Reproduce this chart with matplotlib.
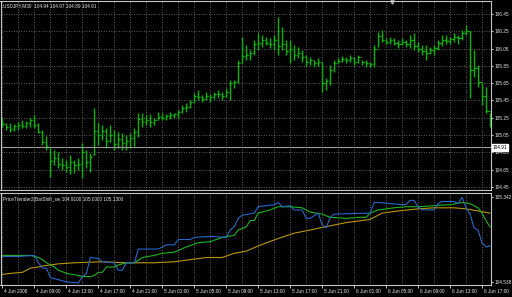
import numpy as np
import matplotlib
matplotlib.use('Agg')
import matplotlib.pyplot as plt

# USDJPY M30, 4 Jun 2008 05:00 .. 6 Jun 2008 18:00 (bar numbers 0..122)
opens = [105.22, 105.18, 105.14, 105.12, 105.15, 105.17, 105.16, 105.19, 105.22, 105.17,
         105.09, 104.97, 104.91, 104.75, 104.78, 104.72, 104.70, 104.68, 104.74, 104.70,
         104.72, 104.85, 104.74, 104.82, 105.10, 105.05, 105.10, 104.98, 105.05, 104.95,
         105.00, 104.96, 104.98, 105.02, 105.08, 105.24, 105.20, 105.22, 105.20, 105.23,
         105.26, 105.25, 105.27, 105.28, 105.29, 105.32, 105.36, 105.38, 105.43, 105.50,
         105.49, 105.47, 105.50, 105.49, 105.52, 105.52, 105.50, 105.55, 105.65, 105.66,
         105.88, 105.96, 105.98, 106.00, 106.10, 106.12, 106.15, 106.12, 106.10, 106.15,
         106.08, 106.10, 106.02, 106.05, 105.98, 106.00, 105.95, 105.90, 105.92, 105.88,
         105.90, 105.65, 105.68, 105.80, 105.88, 105.91, 105.93, 105.92, 105.94, 105.90,
         105.95, 105.89, 105.88, 105.87, 106.05, 106.20, 106.15, 106.13, 106.15, 106.12,
         106.10, 106.13, 106.10, 106.15, 106.08, 106.05, 106.02, 106.00, 106.03, 106.06,
         106.12, 106.15, 106.14, 106.16, 106.18, 106.17, 106.23, 106.25, 105.80, 105.82,
         105.66, 105.50, 105.33]
highs = [105.25, 105.19, 105.19, 105.18, 105.20, 105.22, 105.21, 105.25, 105.28, 105.19,
         105.11, 105.04, 104.91, 104.88, 104.85, 104.79, 104.76, 104.82, 104.76, 104.79,
         104.96, 104.88, 104.84, 105.36, 105.19, 105.17, 105.13, 105.17, 105.11, 105.09,
         105.07, 105.05, 105.07, 105.13, 105.31, 105.31, 105.28, 105.29, 105.25, 105.32,
         105.31, 105.29, 105.32, 105.31, 105.34, 105.40, 105.42, 105.46, 105.54, 105.57,
         105.51, 105.55, 105.53, 105.55, 105.57, 105.55, 105.59, 105.69, 105.69, 105.92,
         106.18, 106.09, 106.03, 106.15, 106.23, 106.21, 106.18, 106.17, 106.21, 106.42,
         106.30, 106.15, 106.15, 106.09, 106.07, 106.03, 105.98, 105.95, 105.92, 105.94,
         105.90, 105.71, 105.86, 105.92, 105.94, 105.96, 105.95, 105.98, 105.95, 105.98,
         105.92, 105.92, 105.90, 106.09, 106.24, 106.27, 106.17, 106.18, 106.17, 106.15,
         106.17, 106.15, 106.21, 106.23, 106.13, 106.09, 106.09, 106.07, 106.09, 106.15,
         106.21, 106.21, 106.18, 106.23, 106.21, 106.27, 106.32, 106.25, 106.03, 105.86,
         105.65, 105.61, 105.31]
lows = [105.14, 105.11, 105.09, 105.10, 105.11, 105.13, 105.13, 105.14, 105.13, 105.07,
        104.94, 104.88, 104.57, 104.70, 104.67, 104.65, 104.62, 104.60, 104.61, 104.65,
        104.55, 104.67, 104.62, 104.82, 104.94, 104.99, 104.90, 104.97, 104.88, 104.90,
        104.88, 104.88, 104.90, 104.92, 105.03, 105.14, 105.17, 105.14, 105.17, 105.22,
        105.22, 105.22, 105.24, 105.25, 105.25, 105.31, 105.32, 105.36, 105.42, 105.46,
        105.43, 105.46, 105.43, 105.47, 105.48, 105.46, 105.49, 105.46, 105.59, 105.65,
        105.88, 105.92, 105.92, 105.98, 106.03, 106.07, 106.09, 106.06, 106.03, 105.98,
        106.03, 105.98, 105.88, 105.92, 105.94, 105.90, 105.85, 105.86, 105.84, 105.85,
        105.55, 105.57, 105.63, 105.78, 105.88, 105.90, 105.88, 105.90, 105.86, 105.88,
        105.86, 105.84, 105.84, 105.84, 106.07, 106.13, 106.10, 106.10, 106.09, 106.06,
        106.09, 106.07, 106.06, 106.03, 106.01, 105.98, 105.92, 105.99, 105.98, 106.03,
        106.08, 106.10, 106.10, 106.13, 106.10, 106.15, 106.21, 105.48, 105.72, 105.61,
        105.40, 105.31, 105.14]
closes = [105.18, 105.14, 105.12, 105.15, 105.17, 105.16, 105.19, 105.22, 105.17, 105.09,
          104.97, 104.92, 104.75, 104.78, 104.72, 104.70, 104.68, 104.74, 104.70, 104.72,
          104.85, 104.74, 104.80, 105.10, 105.05, 105.10, 104.98, 105.05, 104.95, 105.00,
          104.96, 104.98, 105.02, 105.08, 105.24, 105.20, 105.22, 105.20, 105.23, 105.26,
          105.25, 105.27, 105.28, 105.29, 105.32, 105.36, 105.38, 105.43, 105.50, 105.49,
          105.47, 105.50, 105.49, 105.52, 105.52, 105.50, 105.55, 105.65, 105.66, 105.88,
          105.96, 105.98, 106.00, 106.10, 106.12, 106.15, 106.12, 106.10, 106.15, 106.08,
          106.10, 106.02, 106.05, 105.98, 106.00, 105.95, 105.90, 105.92, 105.88, 105.90,
          105.65, 105.68, 105.80, 105.88, 105.91, 105.93, 105.92, 105.94, 105.90, 105.95,
          105.89, 105.88, 105.87, 106.05, 106.20, 106.15, 106.13, 106.15, 106.12, 106.10,
          106.13, 106.10, 106.15, 106.08, 106.05, 106.02, 106.00, 106.03, 106.06, 106.12,
          106.15, 106.14, 106.16, 106.18, 106.17, 106.23, 106.25, 105.80, 105.82, 105.66,
          105.50, 105.33, 105.20]

# PriceTrender indicator lines (bar number, value)
blue_bars = [0, 4, 8, 9, 10, 11, 12, 16, 19, 20, 21, 22, 24, 25, 28, 29, 30, 31, 33, 34,
             39, 41, 43, 44, 47, 48, 52, 56, 57, 58, 59, 60, 63, 64, 68, 69, 70, 72, 73, 75,
             76, 77, 79, 80, 81, 82, 83, 92, 93, 94, 100, 101, 102, 103, 104, 105, 108, 109,
             110, 113, 114, 115, 116, 117, 118, 119, 120, 121, 122]
blue_vals = [104.78, 104.78, 104.79, 104.72, 104.67, 104.67, 104.58, 104.54, 104.53, 104.59,
             104.62, 104.77, 104.76, 104.73, 104.72, 104.65, 104.65, 104.72, 104.72, 104.85,
             104.85, 104.89, 104.89, 104.94, 104.94, 104.96, 104.97, 104.96, 105.03, 105.06,
             105.14, 105.17, 105.19, 105.25, 105.27, 105.29, 105.25, 105.26, 105.22, 105.22,
             105.14, 105.14, 105.19, 105.08, 105.05, 105.15, 105.18, 105.19, 105.29, 105.29,
             105.27, 105.27, 105.31, 105.31, 105.25, 105.22, 105.22, 105.28, 105.30, 105.30,
             105.28, 105.34, 105.24, 105.18, 105.05, 105.03, 104.91, 104.87, 104.88]
green_bars = [0, 7, 9, 10, 11, 13, 14, 16, 19, 20, 22, 23, 24, 25, 26, 28, 29, 31, 33, 35,
              38, 40, 43, 46, 49, 52, 55, 58, 59, 61, 62, 63, 64, 67, 69, 72, 75, 77, 80, 82,
              86, 89, 91, 92, 94, 98, 101, 104, 108, 112, 115, 117, 119, 120, 121, 122]
green_vals = [104.79, 104.79, 104.77, 104.75, 104.72, 104.68, 104.65, 104.62, 104.60, 104.59,
              104.59, 104.60, 104.63, 104.63, 104.68, 104.68, 104.70, 104.72, 104.72, 104.77,
              104.79, 104.81, 104.82, 104.87, 104.91, 104.92, 104.96, 104.98, 105.03, 105.06,
              105.12, 105.12, 105.19, 105.22, 105.25, 105.25, 105.24, 105.20, 105.18, 105.15,
              105.14, 105.15, 105.15, 105.19, 105.22, 105.24, 105.25, 105.25, 105.26, 105.27,
              105.29, 105.28, 105.24, 105.19, 105.12, 105.06]
gold_bars = [0, 2, 5, 7, 9, 10, 14, 18, 25, 31, 38, 43, 47, 51, 55, 58, 61, 64, 69, 73,
             77, 82, 86, 92, 95, 99, 104, 108, 113, 116, 119, 122]
gold_vals = [104.61, 104.62, 104.63, 104.67, 104.68, 104.69, 104.71, 104.72, 104.73, 104.72,
             104.72, 104.73, 104.75, 104.77, 104.77, 104.81, 104.83, 104.88, 104.95, 105.00,
             105.03, 105.07, 105.10, 105.13, 105.19, 105.21, 105.23, 105.24, 105.24, 105.23,
             105.21, 105.19]

price_ticks = [106.45, 106.25, 106.05, 105.85, 105.65, 105.45, 105.25, 105.05, 104.85, 104.65, 104.45]
price_labels = ['106.45', '106.25', '106.05', '105.85', '105.65', '105.45', '105.25', '105.05',
                '104.85', '104.65', '104.45']
bid = 104.91
ind_ticks = [105.342, 104.538]
ind_labels = ['105.342', '104.538']
time_bars = [0, 8, 16, 24, 32, 40, 48, 56, 64, 72, 80, 88, 96, 104, 112, 120]
time_labels = ['4 Jun 2008', '4 Jun 09:00', '4 Jun 13:00', '4 Jun 17:00', '4 Jun 21:00',
               '5 Jun 01:00', '5 Jun 05:00', '5 Jun 09:00', '5 Jun 13:00', '5 Jun 17:00',
               '5 Jun 21:00', '6 Jun 01:00', '6 Jun 05:00', '6 Jun 09:00', '6 Jun 13:00',
               '6 Jun 17:00']
grid_bars = list(range(0, 123, 4))

plt.rcParams['font.family'] = ['Liberation Sans', 'DejaVu Sans']
W, H = 512, 297
fig = plt.figure(figsize=(W / 100, H / 100), dpi=100, facecolor='black')


def box(x0, y0, x1, y1):
    # pixel rectangle (top-left origin) -> figure fraction
    return [x0 / W, 1 - y1 / H, (x1 - x0) / W, (y1 - y0) / H]


frame = '#c4c4c4'
gridc = '#7c7c7c'
txt = '#e6e6e6'
fs = 3.4

ax = fig.add_axes(box(0.5, 1, 491, 190))
ax2 = fig.add_axes(box(0.5, 193, 491, 285))

for a in (ax, ax2):
    a.set_facecolor('black')
    for s in a.spines.values():
        s.set_color(frame)
        s.set_linewidth(0.8)
    a.set_xlim(-0.5, 122.25)
    a.set_xticks(grid_bars)
    a.tick_params(axis='x', length=0, labelbottom=False)
    a.grid(axis='x', color=gridc, linestyle=(0, (1, 2)), linewidth=0.6)
    a.yaxis.tick_right()
    a.tick_params(axis='y', length=1.5, color=frame, labelsize=fs, labelcolor=txt, pad=1)

# price bars
x = np.arange(len(closes))
bar_col = '#00b800'
ax.vlines(x, lows, highs, colors=bar_col, linewidth=1.0)
ax.hlines(opens, x - 0.4, x, colors=bar_col, linewidth=0.9)
ax.hlines(closes, x, x + 0.4, colors=bar_col, linewidth=0.9)
ax.set_ylim(104.415, 106.600)
ax.set_yticks(price_ticks)
ax.set_yticklabels(price_labels)
ax.grid(axis='y', color=gridc, linestyle=(0, (1, 2)), linewidth=0.6)
ax.axhline(bid, color='#9a9a9a', linewidth=0.8)
ax.text(1.004, bid, '104.91', transform=ax.get_yaxis_transform(), fontsize=fs,
        color='black', va='center', ha='left',
        bbox=dict(facecolor='white', edgecolor='white', pad=0.6))
ax.plot([97.5], [0.993], transform=ax.get_xaxis_transform(), marker='v', ms=2.5,
        color='#a6aab0', clip_on=False)
fig.text(3 / W, 1 - 6 / H, 'USDJPY,M30  104.94 104.97 104.89 104.91', fontsize=fs,
         color=txt, va='center', ha='left')

# indicator window
ax2.plot(gold_bars, gold_vals, color='#b8960c', linewidth=0.8)
ax2.plot(green_bars, green_vals, color='#1cb41c', linewidth=0.8)
ax2.plot(blue_bars, blue_vals, color='#2468c8', linewidth=0.8)
ax2.set_ylim(104.510, 105.380)
ax2.set_yticks(ind_ticks)
ax2.set_yticklabels(ind_labels)
fig.text(3 / W, 1 - 199 / H, 'PriceTrender2(BarShift_sw 104.9100 105.0000 105.1300',
         fontsize=fs, color=txt, va='center', ha='left')

# time axis
ax2.vlines(time_bars, -0.035, 0, transform=ax2.get_xaxis_transform(), colors=frame,
           linewidth=0.7, clip_on=False)
for b, lab in zip(time_bars, time_labels):
    ax2.text(b + 0.4, -0.068, lab, transform=ax2.get_xaxis_transform(), fontsize=fs,
             color=txt, va='center', ha='left')

fig.savefig('out.png', dpi=100, facecolor='black')
